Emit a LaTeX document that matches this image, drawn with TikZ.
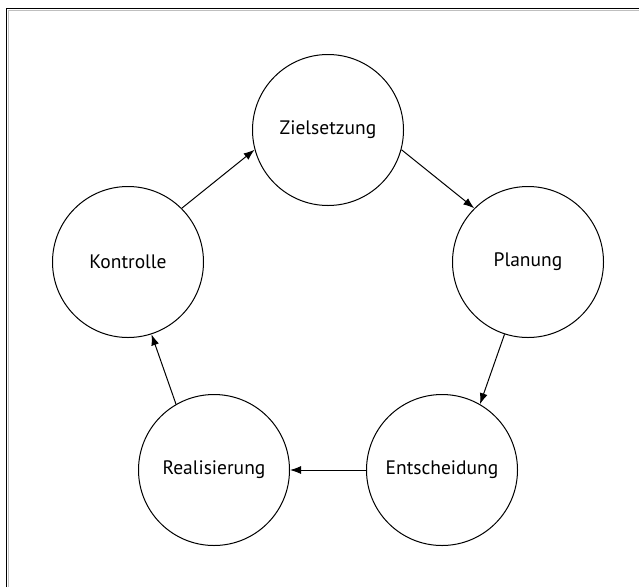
\documentclass[tikz,border=0pt]{standalone}
\usepackage{fontspec}
\setmainfont{PT Sans}
\usetikzlibrary{arrows.meta}
\begin{document}
\begin{tikzpicture}[x=1pt,y=-1pt,
  stage/.style={circle,draw,line width=1pt,minimum size=151pt,inner sep=0pt,font=\fontsize{19.5}{22}\selectfont},
  flow/.style={line width=1pt,-{Latex[length=11pt,width=8pt]}}]
\useasboundingbox (0,0) rectangle (639,587);
\fill[white] (0,0) rectangle (639,587);
\draw[line width=1.6pt] (6.5,587) -- (6.5,8.5) -- (639,8.5);
\draw[gray!50,line width=0.8pt] (8.6,587) -- (8.6,10.6) -- (639,10.6);
\node[stage] (z) at (328,130) {Zielsetzung};
\node[stage] (p) at (528,262) {Planung};
\node[stage] (e) at (442,470) {Entscheidung};
\node[stage] (r) at (214,470) {Realisierung};
\node[stage] (k) at (128,262) {Kontrolle};
\draw[flow] (k.45) -- (z.195);
\draw[flow] (z.345) -- (p.135);
\draw[flow] (p.252) -- (e.60);
\draw[flow] (e.180) -- (r.0);
\draw[flow] (r.120) -- (k.288);
\end{tikzpicture}
\end{document}
